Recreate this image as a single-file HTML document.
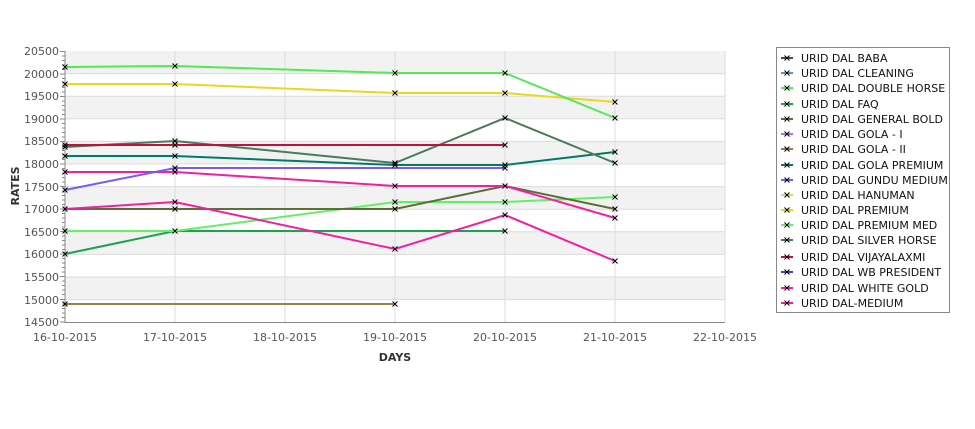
<!DOCTYPE html>
<html><head><meta charset="utf-8"><style>
html,body{margin:0;padding:0;background:#fff;width:975px;height:429px;overflow:hidden}
svg{display:block;font-family:"DejaVu Sans","Liberation Sans",sans-serif}
</style></head><body>
<svg width="975" height="429" viewBox="0 0 975 429" xmlns="http://www.w3.org/2000/svg">
<defs>
<g id="x"><path d="M-2.5,-2.5L2.5,2.5M-2.5,2.5L2.5,-2.5" stroke="#000" stroke-width="1"/></g>
</defs>
<g fill="#f2f2f2">
<rect x="65" y="51" width="660" height="22.6"/>
<rect x="65" y="96.2" width="660" height="22.6"/>
<rect x="65" y="141.4" width="660" height="22.6"/>
<rect x="65" y="186.6" width="660" height="22.6"/>
<rect x="65" y="231.8" width="660" height="22.6"/>
<rect x="65" y="277" width="660" height="22.6"/>
</g>
<g stroke="#dcdcdc" stroke-width="1">
<line x1="65" x2="725" y1="73.6" y2="73.6"/><line x1="65" x2="725" y1="96.2" y2="96.2"/>
<line x1="65" x2="725" y1="118.8" y2="118.8"/><line x1="65" x2="725" y1="141.4" y2="141.4"/>
<line x1="65" x2="725" y1="164" y2="164"/><line x1="65" x2="725" y1="186.6" y2="186.6"/>
<line x1="65" x2="725" y1="209.2" y2="209.2"/><line x1="65" x2="725" y1="231.8" y2="231.8"/>
<line x1="65" x2="725" y1="254.4" y2="254.4"/><line x1="65" x2="725" y1="277" y2="277"/>
<line x1="65" x2="725" y1="299.6" y2="299.6"/>
<line x1="175" x2="175" y1="51" y2="322"/><line x1="285" x2="285" y1="51" y2="322"/>
<line x1="395" x2="395" y1="51" y2="322"/><line x1="505" x2="505" y1="51" y2="322"/>
<line x1="615" x2="615" y1="51" y2="322"/><line x1="725" x2="725" y1="51" y2="322"/>
</g>
<g stroke="#888" stroke-width="1">
<line x1="65" y1="51" x2="65" y2="323"/>
<line x1="65" y1="322.5" x2="725" y2="322.5"/>
</g>
<g stroke="#888" stroke-width="1">
<path d="M60,51.5H65M62,56H65M62,60.5H65M62,65H65M62,69.5H65M60,74H65M62,78.5H65M62,83H65M62,87.5H65M62,92H65M60,96.5H65M62,101H65M62,105.5H65M62,110H65M62,114.5H65M60,119H65M62,123.5H65M62,128H65M62,132.5H65M62,137H65M60,141.5H65M62,146H65M62,150.5H65M62,155H65M62,159.5H65M60,164H65M62,168.5H65M62,173H65M62,177.5H65M62,182H65M60,186.5H65M62,191H65M62,195.5H65M62,200H65M62,204.5H65M60,209H65M62,213.5H65M62,218H65M62,222.5H65M62,227H65M60,231.5H65M62,236H65M62,240.5H65M62,245H65M62,249.5H65M60,254H65M62,258.5H65M62,263H65M62,267.5H65M62,272H65M60,276.5H65M62,281H65M62,285.5H65M62,290H65M62,294.5H65M60,299.5H65M62,304H65M62,308.5H65M62,313H65M62,317.5H65M60,322H65"/>
</g>
<g font-size="11" fill="#555" text-anchor="end">
<text x="59" y="55">20500</text><text x="59" y="78">20000</text><text x="59" y="100">19500</text>
<text x="59" y="123">19000</text><text x="59" y="145">18500</text><text x="59" y="168">18000</text>
<text x="59" y="191">17500</text><text x="59" y="213">17000</text><text x="59" y="236">16500</text>
<text x="59" y="258">16000</text><text x="59" y="281">15500</text><text x="59" y="304">15000</text>
<text x="59" y="326">14500</text>
</g>
<g font-size="11" fill="#555" text-anchor="middle">
<text x="65" y="341">16-10-2015</text><text x="175" y="341">17-10-2015</text><text x="285" y="341">18-10-2015</text>
<text x="395" y="341">19-10-2015</text><text x="505" y="341">20-10-2015</text><text x="615" y="341">21-10-2015</text>
<text x="725" y="341">22-10-2015</text>
</g>
<text x="395" y="361" font-size="11" font-weight="bold" fill="#333" text-anchor="middle">DAYS</text>
<text transform="translate(19,186) rotate(-90)" font-size="11" font-weight="bold" fill="#333" text-anchor="middle">RATES</text>
<g fill="none" stroke-width="2">
<polyline stroke="#9a8050" points="65,304 395,304"/>
<polyline stroke="#20a050" points="65,254 175,231 505,231"/>
<polyline stroke="#66ee66" points="65,231 175,231 395,202 505,202 615,197"/>
<polyline stroke="#5a7038" points="65,209 175,209 395,209 505,186 615,209"/>
<polyline stroke="#f020a0" points="65,209 175,202 395,249 505,215 615,261"/>
<polyline stroke="#f020a0" points="65,172 175,172 395,186 505,186 615,218"/>
<polyline stroke="#7a5af0" points="65,190 175,168 505,168"/>
<polyline stroke="#007a6a" points="65,156 175,156 395,165 505,165 615,152"/>
<polyline stroke="#4a7a5a" points="65,147 175,141 395,163 505,118 615,163"/>
<polyline stroke="#c0103c" points="65,145 175,145 505,145"/>
<polyline stroke="#e8d820" points="65,84 175,84 395,93 505,93 615,102"/>
<polyline stroke="#55e855" points="65,67 175,66 395,73 505,73 615,118"/>
</g>
<g>
<use href="#x" x="65" y="304"/><use href="#x" x="395" y="304"/>
<use href="#x" x="65" y="254"/><use href="#x" x="175" y="231"/><use href="#x" x="505" y="231"/>
<use href="#x" x="65" y="231"/><use href="#x" x="395" y="202"/><use href="#x" x="505" y="202"/><use href="#x" x="615" y="197"/>
<use href="#x" x="65" y="209"/><use href="#x" x="175" y="209"/><use href="#x" x="395" y="209"/><use href="#x" x="505" y="186"/><use href="#x" x="615" y="209"/>
<use href="#x" x="175" y="202"/><use href="#x" x="395" y="249"/><use href="#x" x="505" y="215"/><use href="#x" x="615" y="261"/>
<use href="#x" x="65" y="172"/><use href="#x" x="175" y="172"/><use href="#x" x="395" y="186"/><use href="#x" x="615" y="218"/>
<use href="#x" x="65" y="190"/><use href="#x" x="175" y="168"/><use href="#x" x="505" y="168"/>
<use href="#x" x="65" y="156"/><use href="#x" x="175" y="156"/><use href="#x" x="395" y="165"/><use href="#x" x="505" y="165"/><use href="#x" x="615" y="152"/>
<use href="#x" x="65" y="147"/><use href="#x" x="175" y="141"/><use href="#x" x="395" y="163"/><use href="#x" x="505" y="118"/><use href="#x" x="615" y="163"/>
<use href="#x" x="65" y="145"/><use href="#x" x="175" y="145"/><use href="#x" x="505" y="145"/>
<use href="#x" x="65" y="84"/><use href="#x" x="175" y="84"/><use href="#x" x="395" y="93"/><use href="#x" x="505" y="93"/><use href="#x" x="615" y="102"/>
<use href="#x" x="65" y="67"/><use href="#x" x="175" y="66"/><use href="#x" x="395" y="73"/><use href="#x" x="505" y="73"/><use href="#x" x="615" y="118"/>
</g>
<rect x="776.5" y="47.5" width="173" height="265" fill="#fff" stroke="#888"/>
<g font-size="11" fill="#111">
<g stroke-width="2">
<line x1="781" x2="793" y1="58" y2="58" stroke="#4a4a5a"/>
<line x1="781" x2="793" y1="73" y2="73" stroke="#5a9ab8"/>
<line x1="781" x2="793" y1="88" y2="88" stroke="#55e855"/>
<line x1="781" x2="793" y1="104" y2="104" stroke="#20a050"/>
<line x1="781" x2="793" y1="119" y2="119" stroke="#5a7038"/>
<line x1="781" x2="793" y1="134" y2="134" stroke="#b070f0"/>
<line x1="781" x2="793" y1="149" y2="149" stroke="#9a8050"/>
<line x1="781" x2="793" y1="165" y2="165" stroke="#007a6a"/>
<line x1="781" x2="793" y1="180" y2="180" stroke="#7a5af0"/>
<line x1="781" x2="793" y1="195" y2="195" stroke="#c8e070"/>
<line x1="781" x2="793" y1="210" y2="210" stroke="#e8d820"/>
<line x1="781" x2="793" y1="225" y2="225" stroke="#66ee66"/>
<line x1="781" x2="793" y1="240" y2="240" stroke="#4a7a5a"/>
<line x1="781" x2="793" y1="257" y2="257" stroke="#c0103c"/>
<line x1="781" x2="793" y1="272" y2="272" stroke="#5040c0"/>
<line x1="781" x2="793" y1="288" y2="288" stroke="#f020a0"/>
<line x1="781" x2="793" y1="303" y2="303" stroke="#f020a0"/>
</g>
<use href="#x" x="787" y="58"/><use href="#x" x="787" y="73"/><use href="#x" x="787" y="88"/><use href="#x" x="787" y="104"/>
<use href="#x" x="787" y="119"/><use href="#x" x="787" y="134"/><use href="#x" x="787" y="149"/><use href="#x" x="787" y="165"/>
<use href="#x" x="787" y="180"/><use href="#x" x="787" y="195"/><use href="#x" x="787" y="210"/><use href="#x" x="787" y="225"/>
<use href="#x" x="787" y="240"/><use href="#x" x="787" y="257"/><use href="#x" x="787" y="272"/><use href="#x" x="787" y="288"/>
<use href="#x" x="787" y="303"/>
<text x="801" y="62">URID DAL BABA</text>
<text x="801" y="77">URID DAL CLEANING</text>
<text x="801" y="92">URID DAL DOUBLE HORSE</text>
<text x="801" y="108">URID DAL FAQ</text>
<text x="801" y="123">URID DAL GENERAL BOLD</text>
<text x="801" y="138">URID DAL GOLA - I</text>
<text x="801" y="153">URID DAL GOLA - II</text>
<text x="801" y="169">URID DAL GOLA PREMIUM</text>
<text x="801" y="184">URID DAL GUNDU MEDIUM</text>
<text x="801" y="199">URID DAL HANUMAN</text>
<text x="801" y="214">URID DAL PREMIUM</text>
<text x="801" y="229">URID DAL PREMIUM MED</text>
<text x="801" y="244">URID DAL SILVER HORSE</text>
<text x="801" y="261">URID DAL VIJAYALAXMI</text>
<text x="801" y="276">URID DAL WB PRESIDENT</text>
<text x="801" y="292">URID DAL WHITE GOLD</text>
<text x="801" y="307">URID DAL-MEDIUM</text>
</g>
</svg>
</body></html>
